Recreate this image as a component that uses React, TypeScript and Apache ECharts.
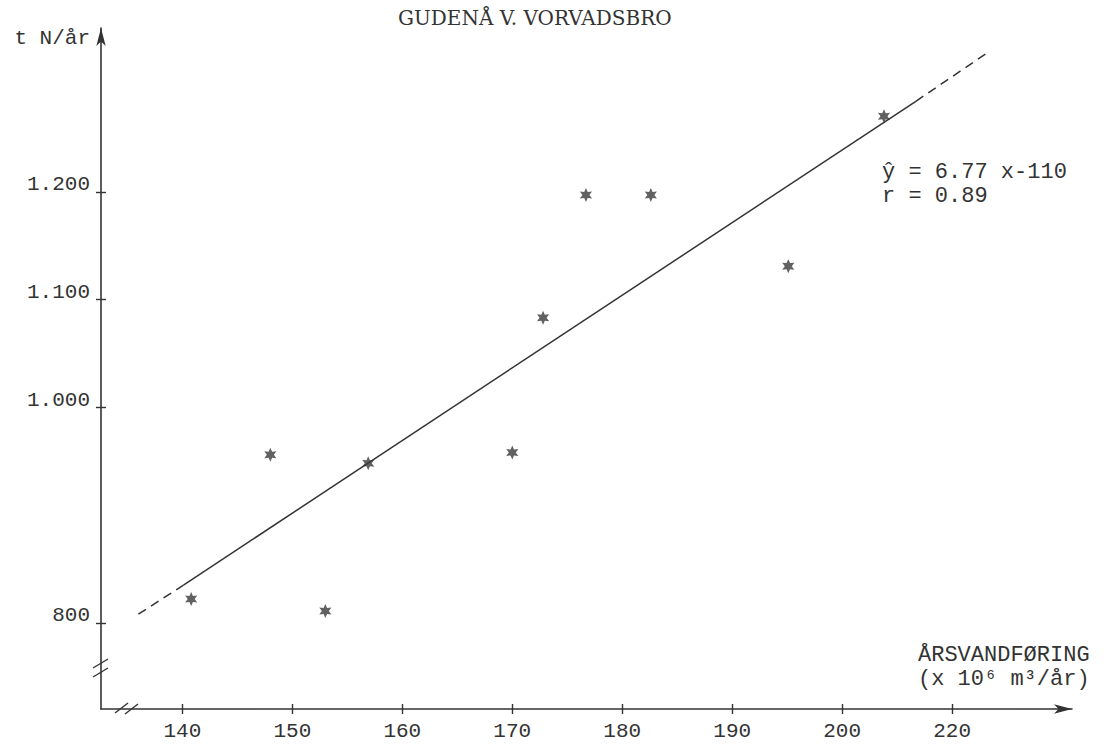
import React, { useEffect, useRef } from "react";
import * as echarts from "echarts";

// ---- data ----
const chartTitle = "GUDENÅ V. VORVADSBRO";
const yAxisName = "t N/år";
const xAxisNameLines = ["ÅRSVANDFØRING", "(x 10⁶ m³/år)"];
const equationLines = ["ŷ = 6.77 x-110", "r = 0.89"];

// x tick positions and the labels printed at them (the last one is printed "220")
const xTickValues = [140, 150, 160, 170, 180, 190, 200, 210];
const xTickLabels = ["140", "150", "160", "170", "180", "190", "200", "220"];
const yTickValues = [800, 1000, 1100, 1200];
const yTickLabels = ["800", "1.000", "1.100", "1.200"];

// annual discharge (10^6 m3/yr) and nitrogen transport (t N/yr)
const flow = [140.8, 148.0, 153.0, 156.9, 170.0, 172.8, 176.7, 182.6, 195.1, 203.8];
const nitrogen = [822, 956, 811, 948, 958, 1083, 1197, 1197, 1131, 1270];

// regression line pieces (dashed extrapolations at both ends)
const fitLowX = [136.0, 140.1];
const fitLowY = [808, 835];
const fitMidX = [140.1, 206.7];
const fitMidY = [835, 1284];
const fitHighX = [206.7, 213.2];
const fitHighY = [1284, 1329];

const INK = "#333333";
const MONO = '"Liberation Mono", "DejaVu Sans Mono", monospace';
const STAR =
  "path://M0,-10L2.5,-4.3L8.66,-5L5,0L8.66,5L2.5,4.3L0,10L-2.5,4.3L-8.66,5L-5,0L-8.66,-5L-2.5,-4.3Z";

const pairs = (xs: number[], ys: number[]) => xs.map((x, i) => [x, ys[i]]);

function buildOption() {
  const xMin = 132.6;
  const xMax = 220.9;
  const yMin = 720;
  const yMax = 1352;
  const tickLine = { color: INK, width: 1.4 };
  return {
    animation: false,
    backgroundColor: "#ffffff",
    title: {
      text: chartTitle,
      left: 398,
      top: 8,
      padding: 0,
      textStyle: {
        fontFamily: '"DejaVu Serif", serif',
        fontSize: 20,
        fontWeight: "normal",
        color: INK,
      },
    },
    grid: { left: 101, top: 28, right: 34, bottom: 38, containLabel: false },
    xAxis: [
      {
        type: "value",
        min: xMin,
        max: xMax,
        position: "bottom",
        axisLine: {
          show: true,
          symbol: ["none", "arrow"],
          symbolSize: [7, 18],
          lineStyle: { color: INK, width: 1.6 },
        },
        axisTick: { show: true, length: 5, customValues: xTickValues, lineStyle: tickLine },
        axisLabel: {
          customValues: xTickValues,
          formatter: (v: number) => {
            const i = xTickValues.indexOf(Math.round(v));
            return i >= 0 ? xTickLabels[i] : "";
          },
          margin: 11,
          fontFamily: MONO,
          fontSize: 21,
          lineHeight: 22,
          color: INK,
        },
        splitLine: { show: false },
      },
      {
        type: "value",
        min: xMin,
        max: xMax,
        position: "bottom",
        axisLine: { show: false },
        axisTick: { show: true, inside: true, length: 5, customValues: xTickValues, lineStyle: tickLine },
        axisLabel: { show: false },
        splitLine: { show: false },
      },
    ],
    yAxis: [
      {
        type: "value",
        min: yMin,
        max: yMax,
        position: "left",
        name: yAxisName,
        nameLocation: "end",
        nameGap: -10,
        nameTextStyle: {
          fontFamily: MONO,
          fontSize: 21,
          color: INK,
          align: "right",
          verticalAlign: "middle",
          padding: [0, 11, 0, 0],
        },
        axisLine: {
          show: true,
          symbol: ["none", "arrow"],
          symbolSize: [7, 18],
          lineStyle: { color: INK, width: 1.6 },
        },
        axisTick: { show: true, length: 5, customValues: yTickValues, lineStyle: tickLine },
        axisLabel: {
          customValues: yTickValues,
          formatter: (v: number) => {
            const i = yTickValues.indexOf(Math.round(v));
            return i >= 0 ? yTickLabels[i] : "";
          },
          margin: 11,
          fontFamily: MONO,
          fontSize: 21,
          lineHeight: 14,
          verticalAlign: "bottom",
          color: INK,
        },
        splitLine: { show: false },
      },
      {
        type: "value",
        min: yMin,
        max: yMax,
        position: "left",
        axisLine: { show: false },
        axisTick: { show: true, inside: true, length: 5, customValues: yTickValues, lineStyle: tickLine },
        axisLabel: { show: false },
        splitLine: { show: false },
      },
    ],
    series: [
      {
        name: "fit-low",
        type: "line",
        data: pairs(fitLowX, fitLowY),
        symbol: "none",
        lineStyle: { color: INK, width: 1.5, type: [9, 6] },
        silent: true,
      },
      {
        name: "fit",
        type: "line",
        data: pairs(fitMidX, fitMidY),
        symbol: "none",
        lineStyle: { color: INK, width: 1.5 },
        silent: true,
      },
      {
        name: "fit-high",
        type: "line",
        data: pairs(fitHighX, fitHighY),
        symbol: "none",
        lineStyle: { color: INK, width: 1.5, type: [9, 6] },
        silent: true,
      },
      {
        name: "målinger",
        type: "scatter",
        data: pairs(flow, nitrogen),
        symbol: STAR,
        symbolSize: 14,
        symbolKeepAspect: true,
        itemStyle: { color: "#3a3a3a" },
        z: 5,
      },
    ],
    graphic: [
      // axis break marks
      { type: "line", shape: { x1: 93, y1: 668, x2: 108, y2: 659 }, style: { stroke: INK, lineWidth: 1.4 } },
      { type: "line", shape: { x1: 93, y1: 677, x2: 108, y2: 668 }, style: { stroke: INK, lineWidth: 1.4 } },
      { type: "line", shape: { x1: 115, y1: 713, x2: 128, y2: 703 }, style: { stroke: INK, lineWidth: 1.4 } },
      { type: "line", shape: { x1: 125, y1: 714, x2: 138, y2: 704 }, style: { stroke: INK, lineWidth: 1.4 } },
      // regression equation
      {
        type: "text",
        x: 882,
        y: 160,
        style: {
          text: equationLines.join("\n"),
          fontFamily: MONO,
          fontSize: 22,
          lineHeight: 24,
          fill: INK,
          verticalAlign: "top",
        },
      },
      // x axis title
      {
        type: "text",
        x: 918,
        y: 643,
        style: {
          text: xAxisNameLines.join("\n"),
          fontFamily: MONO,
          fontSize: 22,
          lineHeight: 24,
          fill: INK,
          verticalAlign: "top",
        },
      },
    ],
  };
}

export default function App() {
  const ref = useRef<HTMLDivElement>(null);
  useEffect(() => {
    if (!ref.current) return;
    const chart = echarts.init(ref.current, null, { renderer: "svg" });
    chart.setOption(buildOption() as any);
    return () => chart.dispose();
  }, []);
  return (
    <div
      ref={ref}
      style={{ position: "fixed", left: 0, top: 0, width: 1106, height: 747, background: "#ffffff" }}
    />
  );
}
